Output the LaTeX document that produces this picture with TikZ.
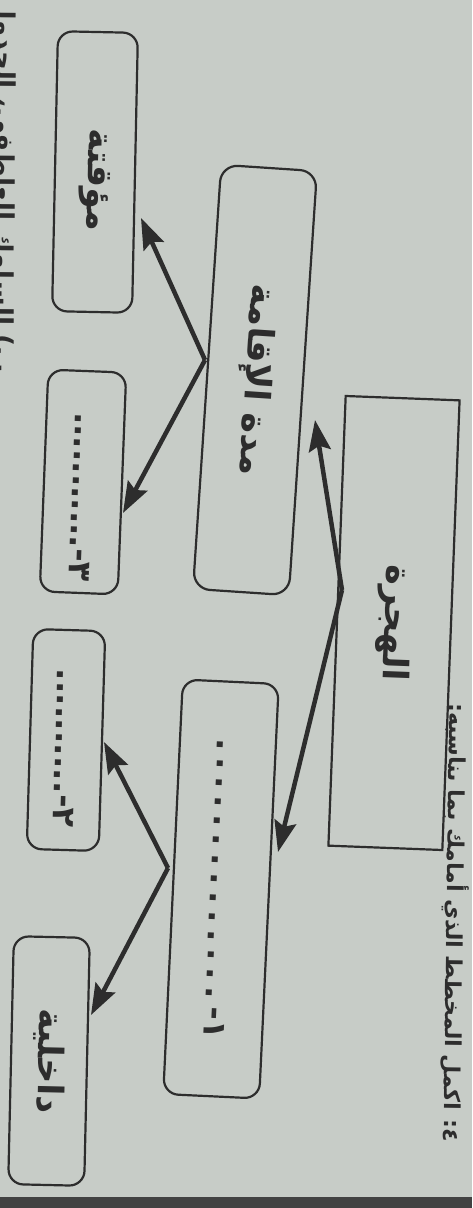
\documentclass[tikz,border=0pt]{standalone}
\usepackage{fontspec}
\usetikzlibrary{arrows.meta}
\newfontfamily\arabicfont[Script=Arabic]{DejaVu Sans}
\TeXXeTstate=1
\definecolor{paper}{RGB}{199,204,199}
\definecolor{ink}{RGB}{45,45,45}
\newcommand{\rtl}[1]{\hbox{\beginR #1\endR}}
\newcommand{\dotrow}[2]{\foreach \k in {1,...,#1}{\kern#2pt.}}
\tikzset{
  box/.style={draw=ink,line width=2.2pt,rounded corners=15pt,inner sep=0pt,text=ink,
    font=\arabicfont\bfseries\fontsize{35}{40}\selectfont},
  fillbox/.style={box,font=\arabicfont\bfseries\fontsize{32}{38}\selectfont},
  arr/.style={-{Stealth[length=31pt,width=22pt,inset=5pt]},line width=4.5pt,draw=ink}
}
\begin{document}
\begin{tikzpicture}[x=1pt,y=-1pt]
    \useasboundingbox(0,0)rectangle(472,1208);
    \clip(0,0)rectangle(472,1208);
    \fill[paper](0,0)rectangle(472,1208);
    \fill[ink!90](0,1197)rectangle(472,1208);

    % title line and the next question, cut off at the edge
    \node[rotate=-90.8,text=ink,font=\arabicfont\bfseries\fontsize{22}{26}\selectfont](task)at(455,923){\rtl{٤: اكمل المخطط الذي أمامك بما يناسبه:}};
    \node[rotate=-90.5,anchor=base west,text=ink,font=\arabicfont\bfseries\fontsize{26}{30}\selectfont](next)at(-3,-6){\rtl{ب) السلوك العاطفي، الجدول}};

    % boxes
    \node[box,rounded corners=0pt,rotate=-92.2,minimum width=450pt,minimum height=114pt](hijra)at(394,623){\rtl{الهجرة}};
    \node[box,rounded corners=17pt,rotate=-93.8,minimum width=425pt,minimum height=96pt](stay)at(255,380){\rtl{مدة الإقامة}};
    \node[fillbox,rotate=-92.7,minimum width=415pt,minimum height=96pt](kind)at(221,889){\rtl{١-\dotrow{14}{7}}};
    \node[box,rotate=-91.2,minimum width=280pt,minimum height=80pt](temp)at(95,172){\hspace{16pt}\rtl{مؤقتة}};
    \node[fillbox,rotate=-92.2,minimum width=222pt,minimum height=78pt](perm)at(83,482){\hspace{30pt}\rtl{٣-\dotrow{11}{0.2}}};
    \node[fillbox,rotate=-91.7,minimum width=220pt,minimum height=72pt](ext)at(66,740){\hspace{16pt}\rtl{٢-\dotrow{10}{0.4}}};
    \node[box,rotate=-91.3,minimum width=248pt,minimum height=76pt](inner)at(49,1061){\rtl{داخلية}};

    % arrows
    \coordinate(splitA)at(342,590);
    \coordinate(tipB)at(315,420);
    \coordinate(tipC)at(278,852);
    \coordinate(splitB)at(205,360);
    \coordinate(tipD)at(141,218);
    \coordinate(tipE)at(123,513);
    \coordinate(splitC)at(168,868);
    \coordinate(tipF)at(104,742);
    \coordinate(tipG)at(91,1015);
    \draw[arr](splitA)--(tipB);
    \draw[arr](splitA)--(tipC);
    \draw[arr](splitB)--(tipD);
    \draw[arr](splitB)--(tipE);
    \draw[arr](splitC)--(tipF);
    \draw[arr](splitC)--(tipG);
\end{tikzpicture}
\end{document}
